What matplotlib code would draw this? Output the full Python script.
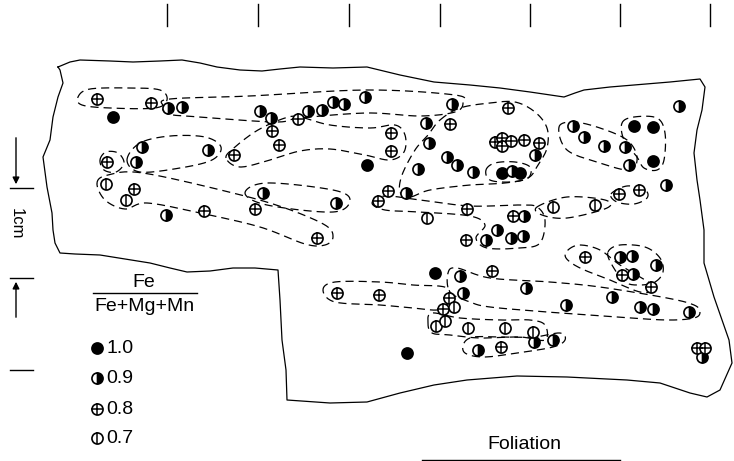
import matplotlib
matplotlib.use("Agg")
import matplotlib.pyplot as plt
import numpy as np

plt.rcParams['font.family'] = ['Liberation Sans', 'DejaVu Sans']

# point positions (sample coordinates, pixel-like units, y downwards)
fe10 = [(113, 117), (367, 165), (502, 173), (520, 173), (634, 126), (653, 127),
        (653, 161), (435, 273), (407, 353)]
fe09 = [(168, 108), (182, 107), (260, 111), (271, 118), (308, 111), (322, 110),
        (333, 102), (344, 104), (365, 97), (142, 147), (136, 162), (208, 150),
        (166, 215), (263, 193), (336, 203), (452, 104), (426, 123), (429, 143),
        (535, 155), (447, 157), (457, 165), (473, 172), (418, 169), (512, 171),
        (573, 126), (584, 137), (604, 146), (625, 147), (629, 165), (679, 106),
        (666, 185), (406, 193), (524, 216), (497, 230), (486, 240), (511, 238),
        (523, 236), (460, 276), (463, 293), (526, 288), (478, 350), (534, 342),
        (553, 340), (566, 305), (612, 297), (640, 307), (653, 309), (689, 312),
        (620, 257), (632, 256), (656, 265), (633, 274), (702, 357)]
fe08 = [(97, 99), (151, 103), (298, 119), (272, 131), (279, 145), (234, 155),
        (107, 162), (134, 189), (204, 211), (255, 209), (378, 201), (388, 191),
        (391, 133), (391, 151), (450, 124), (508, 108), (495, 142), (502, 138),
        (502, 146), (511, 141), (524, 140), (539, 143), (467, 209), (513, 216),
        (466, 240), (619, 194), (639, 190), (317, 238), (337, 293), (379, 295),
        (492, 271), (449, 298), (443, 309), (501, 347), (585, 257), (622, 275),
        (651, 287), (697, 348), (705, 348)]
fe07 = [(106, 184), (126, 200), (427, 218), (553, 207), (595, 205), (454, 307),
        (436, 326), (445, 321), (468, 328), (505, 328), (533, 332)]

legend_labels = ['1.0', '0.9', '0.8', '0.7']
top_ticks = [167, 258, 349, 440, 530, 620, 710]

outline = [(58, 67), (70, 62), (80, 60), (110, 61), (133, 62), (160, 61), (182, 60),
           (200, 63), (217, 67), (240, 70), (262, 71), (280, 69), (300, 67), (333, 68),
           (367, 67), (400, 75), (434, 82), (470, 85), (500, 88), (530, 92), (564, 97),
           (575, 93), (584, 90), (610, 87), (634, 85), (670, 82), (700, 79), (705, 87),
           (702, 110), (697, 130), (694, 153), (697, 180), (700, 200), (704, 230),
           (704, 263), (714, 297), (729, 340), (732, 363), (720, 390), (707, 397),
           (690, 393), (660, 383), (627, 380), (567, 377), (517, 376), (467, 380),
           (434, 385), (400, 393), (367, 402), (330, 403), (287, 400), (286, 370),
           (282, 340), (280, 300), (278, 270), (255, 268), (233, 268), (210, 271),
           (187, 272), (170, 268), (150, 263), (125, 259), (100, 255), (75, 254),
           (60, 253), (55, 243), (53, 230), (52, 213), (47, 187), (43, 157), (50, 140),
           (53, 117), (58, 97), (63, 83), (60, 70)]

# dashed groupings
groups = [
    [(78, 97), (90, 89), (130, 88), (160, 90), (167, 100), (155, 108), (110, 108), (82, 105)],
    [(163, 106), (170, 99), (250, 96), (367, 90), (455, 95), (463, 103), (455, 112),
     (420, 116), (367, 113), (300, 118), (275, 122), (200, 117), (168, 114)],
    [(127, 160), (140, 143), (170, 136), (205, 137), (221, 147), (212, 160), (180, 168), (140, 172)],
    [(226, 158), (235, 147), (258, 130), (285, 118), (300, 117), (330, 125), (370, 128),
     (395, 125), (405, 135), (404, 152), (390, 160), (365, 155), (330, 149), (300, 151),
     (270, 160), (240, 167)],
    [(100, 160), (106, 152), (118, 153), (124, 163), (116, 172), (104, 170)],
    [(97, 183), (108, 175), (143, 173), (233, 193), (285, 208), (325, 225), (333, 237),
     (325, 245), (305, 244), (260, 227), (200, 213), (147, 203), (125, 209), (105, 200)],
    [(245, 193), (267, 183), (333, 190), (350, 200), (333, 212), (267, 205)],
    [(440, 120), (460, 108), (490, 103), (515, 102), (535, 112), (547, 128), (547, 148),
     (538, 165), (528, 178), (505, 183), (470, 185), (430, 190), (410, 197), (400, 192),
     (402, 175), (415, 150), (428, 135)],
    [(486, 170), (495, 163), (515, 162), (530, 167), (528, 178), (510, 182), (490, 180)],
    [(559, 127), (574, 122), (600, 128), (627, 140), (637, 157), (630, 170), (600, 163), (567, 150)],
    [(622, 123), (634, 117), (657, 118), (665, 133), (664, 160), (657, 170), (644, 168),
     (637, 157), (624, 140)],
    [(611, 194), (627, 186), (645, 190), (647, 198), (634, 204), (617, 202)],
    [(537, 207), (567, 197), (605, 200), (607, 208), (567, 218), (542, 215)],
    [(372, 203), (385, 196), (420, 200), (470, 206), (520, 205), (537, 207), (545, 220),
     (540, 243), (520, 248), (487, 248), (476, 238), (485, 225), (470, 216), (420, 212),
     (385, 210)],
    [(323, 290), (335, 282), (380, 282), (413, 285), (447, 288), (447, 305), (437, 310),
     (413, 308), (380, 305), (335, 302)],
    [(448, 273), (457, 268), (490, 278), (550, 282), (600, 287), (667, 298), (694, 305),
     (700, 312), (694, 318), (667, 320), (617, 317), (547, 312), (490, 307), (470, 302),
     (450, 292)],
    [(428, 323), (432, 313), (460, 318), (500, 320), (530, 320), (545, 325), (545, 340),
     (520, 337), (480, 338), (450, 335), (432, 333)],
    [(464, 343), (474, 337), (500, 337), (534, 337), (560, 333), (565, 340), (553, 347),
     (517, 353), (484, 357), (465, 353)],
    [(568, 250), (580, 245), (600, 250), (620, 265), (650, 283), (655, 290), (640, 292),
     (610, 280), (580, 268), (566, 258)],
    [(608, 252), (620, 245), (645, 247), (660, 258), (663, 272), (655, 282), (640, 285),
     (625, 282), (612, 265)],
]


def smooth_closed(pts, n=16):
    p = np.array(pts, float)
    N = len(p)
    t = np.linspace(0, 1, n, endpoint=False)[:, None]
    segs = []
    for i in range(N):
        p0, p1, p2, p3 = p[i - 1], p[i], p[(i + 1) % N], p[(i + 2) % N]
        segs.append(0.5 * (2 * p1 + (-p0 + p2) * t + (2 * p0 - 5 * p1 + 4 * p2 - p3) * t ** 2
                           + (-p0 + 3 * p1 - 3 * p2 + p3) * t ** 3))
    c = np.vstack(segs)
    return np.vstack([c, c[:1]])


ms = 8
mew = 1.2


def draw_marker(ax, pts, kind, size=ms):
    if not pts:
        return
    x = [p[0] for p in pts]
    y = [p[1] for p in pts]
    if kind == '1.0':
        ax.plot(x, y, 'o', ms=size, mfc='black', mec='black', mew=mew, zorder=5)
    elif kind == '0.9':
        ax.plot(x, y, 'o', ms=size, fillstyle='right', mfc='black', mfcalt='white',
                mec='black', mew=mew, zorder=5)
    elif kind == '0.8':
        ax.plot(x, y, 'o', ms=size, mfc='white', mec='black', mew=mew, zorder=5)
        ax.plot(x, y, '+', ms=size, mec='black', mew=mew * 0.9, zorder=6)
    else:
        ax.plot(x, y, 'o', ms=size, mfc='white', mec='black', mew=mew, zorder=5)
        ax.plot(x, y, '|', ms=size, mec='black', mew=mew * 0.9, zorder=6)


fig = plt.figure(figsize=(7.34, 4.61), dpi=100)
ax = fig.add_axes([0, 0, 1, 1])
ax.set_xlim(0, 734)
ax.set_ylim(461, 0)
ax.axis('off')

# sample outline
ol = np.array(outline + outline[:1], float)
ax.plot(ol[:, 0], ol[:, 1], color='black', lw=0.9)

for g in groups:
    c = smooth_closed(g)
    ax.plot(c[:, 0], c[:, 1], color='black', lw=0.9, dashes=(6.5, 4))

draw_marker(ax, fe10, '1.0')
draw_marker(ax, fe09, '0.9')
draw_marker(ax, fe08, '0.8')
draw_marker(ax, fe07, '0.7')

# top ticks
for tx in top_ticks:
    ax.plot([tx, tx], [4, 26], color='black', lw=1.0)

# scale bar 1 cm
ax.plot([10, 33], [188, 188], color='black', lw=1.0)
ax.plot([10, 33], [278, 278], color='black', lw=1.0)
ax.plot([10, 33], [370, 370], color='black', lw=1.0)
ax.annotate('', xy=(16, 187), xytext=(16, 135),
            arrowprops=dict(arrowstyle='-|>', color='black', lw=1.0, mutation_scale=10))
ax.annotate('', xy=(16, 279), xytext=(16, 320),
            arrowprops=dict(arrowstyle='-|>', color='black', lw=1.0, mutation_scale=10))
ax.text(16, 224, '1cm', rotation=-90, ha='center', va='center', fontsize=12)

# legend
ax.text(144, 282, 'Fe', ha='center', va='center', fontsize=14)
ax.plot([93, 197], [293, 293], color='black', lw=1.0)
ax.text(144, 306, 'Fe+Mg+Mn', ha='center', va='center', fontsize=14)
leg_y = [348, 378, 409, 438]
for lab, ly in zip(legend_labels, leg_y):
    draw_marker(ax, [(97, ly)], lab, size=8)
    ax.text(106, ly, lab, ha='left', va='center', fontsize=14)

# foliation
ax.text(524, 444, 'Foliation', ha='center', va='center', fontsize=14)
ax.plot([422, 620], [460, 460], color='black', lw=1.0)

fig.savefig('out.png', dpi=100)
